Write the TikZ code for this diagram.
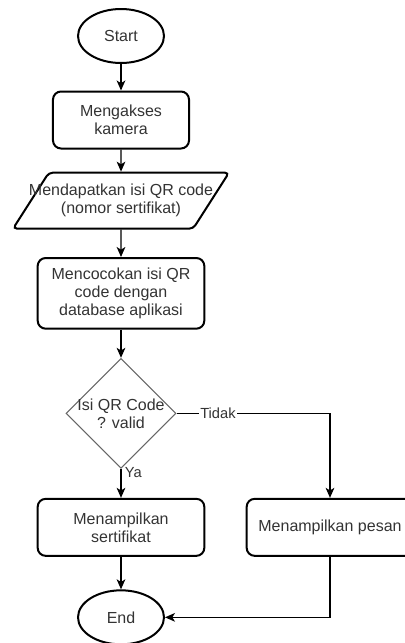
\documentclass[tikz,border=0pt]{standalone}
\usepackage{fontspec}
\setmainfont{Liberation Sans}
\usetikzlibrary{shapes.geometric,arrows.meta}
\newcommand{\flowfont}{\fontsize{12pt}{13.5pt}\selectfont}
\newcommand{\labelfont}{\fontsize{11pt}{12pt}\selectfont}

\begin{document}
\begin{tikzpicture}[
  terminal/.style={ellipse, draw, line width=1.5pt, minimum width=64.5pt, minimum height=40.5pt, inner sep=0pt, text=black!80, font=\flowfont},
  block/.style={rectangle, draw, line width=1.5pt, rounded corners=6pt, minimum width=125pt, minimum height=42.75pt, align=center, text=black!80, font=\flowfont},
  io/.style={trapezium, trapezium left angle=49.4, trapezium right angle=130.6, trapezium stretches body, draw, line width=1.5pt, rounded corners=3pt, minimum width=162pt, minimum height=42pt, inner xsep=-25pt, align=center, text=black!80, font=\flowfont},
  decision/.style={diamond, draw=black!60, line width=0.75pt, minimum width=82.5pt, minimum height=82.5pt, inner xsep=-8pt, inner ysep=0pt, align=center, text=black!80, font=\flowfont},
  line/.style={draw, line width=1pt, -{Stealth[length=7.5pt, width=6.5pt, inset=2pt]}},
  tag/.style={fill=white, inner sep=1pt, text=black!80, font=\labelfont}
]
\useasboundingbox (-90.75pt,27pt) rectangle (212.25pt,-455.25pt);

\node [terminal] (start) {Start};
\node [block, below of=start, node distance=63pt, minimum width=102pt] (akses) {Mengakses\\kamera};
\node [io, below of=akses, node distance=60.5pt] (isi) {Mendapatkan isi QR code\\(nomor sertifikat)};
\node [block, below of=isi, node distance=69.5pt, minimum height=53pt] (cocok) {Mencocokan isi QR\\code dengan\\database aplikasi};
\node [decision, below of=cocok, node distance=90pt] (valid) {Isi QR Code\\? valid};
\node [block, below of=valid, node distance=85.5pt] (sertifikat) {Menampilkan\\sertifikat};
\node [block, right of=sertifikat, node distance=156.75pt] (pesan) {Menampilkan pesan};
\node [terminal, below of=sertifikat, node distance=67.5pt] (end) {End};

\path [line] (start) -- (akses);
\path [line] (akses) -- (isi);
\path [line] (isi) -- (cocok);
\path [line] (cocok) -- (valid);
\path [line] (valid) -- node[tag, pos=0.13, anchor=west, xshift=1.5pt] {Ya} (sertifikat);
\path [line] (valid.east) -| node[tag, pos=0.135] {Tidak} (pesan.north);
\path [line] (sertifikat) -- (end);
\path [line] (pesan.south) |- (end.east);
\end{tikzpicture}
\end{document}
